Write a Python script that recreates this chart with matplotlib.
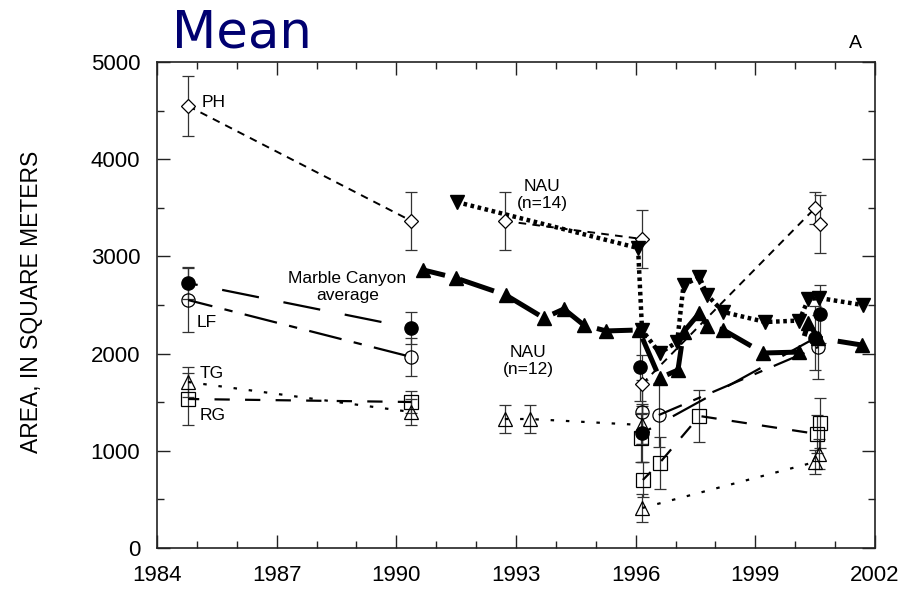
import numpy as np
import matplotlib
matplotlib.use("Agg")
import matplotlib.pyplot as plt

nan = np.nan

# PH - open diamonds, thin dashed
ph_year = [1984.78, 1990.38, nan, 1992.72, 1996.16, nan, 1996.16, 2000.50, nan, 2000.62]
ph_area = [4547, 3364, nan, 3364, 3179, nan, 1687, 3498, nan, 3333]
ph_err = [310, 300, nan, 300, 300, nan, 300, 160, nan, 300]

# LF - open circles, long-short dash
lf_year = [1984.78, 1990.38, nan, 1996.16, nan, 1996.58, 2000.58]
lf_area = [2551, 1965, nan, 1399, nan, 1368, 2068]
lf_err = [330, 200, nan, 330, nan, 330, 330]

# Marble Canyon average - filled circles, long dash
mc_year = [1984.78, 1990.38, nan, 1996.10, nan, 1996.17, 2000.50, nan, 2000.62]
mc_area = [2726, 2263, nan, 1862, nan, 1183, 2160, nan, 2407]
mc_err = [165, 160, nan, 350, nan, 300, 330, nan, 300]

# TG - open triangles, dotted
tg_year = [1984.78, 1990.38, nan, 1992.72, 1993.35, 1996.17, nan, 1996.17, 2000.50, nan, 2000.60]
tg_area = [1708, 1399, nan, 1327, 1327, 1265, nan, 412, 885, nan, 967]
tg_err = [150, 130, nan, 145, 145, 200, nan, 140, 120, nan, 150]

# RG - open squares, dashed
rg_year = [1984.78, 1990.38, nan, 1996.13, nan, 1996.18, 1996.60, 1997.60, 2000.55, nan, 2000.62]
rg_area = [1533, 1502, nan, 1132, nan, 700, 875, 1358, 1173, nan, 1286]
rg_err = [270, 110, nan, 250, nan, 180, 268, 268, 200, nan, 260]

# NAU (n=14) - filled down triangles, heavy dotted
n14_year = [1991.51, 1996.06, 1996.16, 1996.60, 1997.04, 1997.20, 1997.60, 1997.79,
            1998.20, 1999.25, 2000.10, 2000.33, 2000.60, 2001.69]
n14_area = [3560, 3086, 2243, 2006, 2119, 2706, 2788, 2603,
            2428, 2325, 2340, 2562, 2572, 2500]

# NAU (n=12) - filled up triangles, heavy long dash
n12_year = [1990.68, 1991.49, 1992.74, 1993.70, 1994.20, 1994.70, 1995.26, 1996.08,
            1996.60, 1997.06, 1997.20, 1997.60, 1997.80, 1998.20, 1999.20, 2000.10,
            2000.33, 2000.58, 2001.67]
n12_area = [2860, 2778, 2603, 2366, 2459, 2294, 2233, 2243,
            1749, 1831, 2222, 2418, 2284, 2243, 2006, 2016,
            2315, 2160, 2088]

# labels: text, year, area, alignment
label_text = ["PH", "LF", "TG", "RG", "Marble Canyon\naverage", "NAU\n(n=14)", "NAU\n(n=12)"]
label_year = [1985.13, 1985.0, 1985.06, 1985.06, 1988.77, 1993.65, 1993.30]
label_area = [4588, 2325, 1800, 1368, 2685, 3632, 1924]
label_ha = ["left", "left", "left", "left", "center", "center", "center"]

plt.rcParams['font.family'] = ['Liberation Sans', 'DejaVu Sans']
plt.rcParams['lines.scale_dashes'] = False

fig = plt.figure(figsize=(9.11, 5.95), dpi=100)
ax = fig.add_axes([157 / 911, 1 - 548 / 595, (875 - 157) / 911, (548 - 62) / 595])

ebar_kw = dict(fmt='none', ecolor='#333333', elinewidth=0.9, capsize=4, capthick=0.9, zorder=2)

for yr, ar, er in [(ph_year, ph_area, ph_err), (lf_year, lf_area, lf_err),
                   (mc_year, mc_area, mc_err), (tg_year, tg_area, tg_err),
                   (rg_year, rg_area, rg_err)]:
    ax.errorbar(yr, ar, yerr=er, **ebar_kw)

# lines
ax.plot(ph_year, ph_area, color='k', lw=1.4, ls=(0, (5.5, 4.5)), zorder=3)
ax.plot(lf_year, lf_area, color='k', lw=1.6, ls=(6, (24, 9, 6, 9)), zorder=3)
ax.plot(mc_year, mc_area, color='k', lw=1.6, ls=(20, (27, 18)), zorder=3)
ax.plot(tg_year, tg_area, color='k', lw=1.6, ls=(0, (2.5, 8.5)), zorder=3)
ax.plot(rg_year, rg_area, color='k', lw=1.6, ls=(3, (11, 11)), zorder=3)
ax.plot(n14_year, n14_area, color='k', lw=3.2, ls=(0, (2.6, 2.6)), zorder=4)
ax.plot(n12_year, n12_area, color='k', lw=3.6, ls=(10, (26, 11)), zorder=4)

# markers
ax.plot(ph_year, ph_area, ls='none', marker='D', ms=7.5, mfc='white', mec='k', mew=0.9, zorder=5)
ax.plot(lf_year, lf_area, ls='none', marker='o', ms=9.5, mfc='none', mec='k', mew=0.9, zorder=5)
ax.plot(mc_year, mc_area, ls='none', marker='o', ms=9.5, mfc='k', mec='k', zorder=5)
ax.plot(tg_year, tg_area, ls='none', marker='^', ms=10.5, mfc='none', mec='k', mew=0.9, zorder=5)
ax.plot(rg_year, rg_area, ls='none', marker='s', ms=9.5, mfc='none', mec='k', mew=0.9, zorder=5)
ax.plot(n14_year, n14_area, ls='none', marker='v', ms=10.5, mfc='k', mec='k', zorder=6)
ax.plot(n12_year, n12_area, ls='none', marker='^', ms=10.5, mfc='k', mec='k', zorder=6)

for t, x, y, ha in zip(label_text, label_year, label_area, label_ha):
    ax.text(x, y, t, ha=ha, va='center', fontsize=12.5, linespacing=1.15, zorder=7)

ax.set_xlim(1984, 2002)
ax.set_ylim(0, 5000)
ax.set_xticks(np.arange(1984, 2003, 3))
ax.set_xticks(np.arange(1984, 2003, 1), minor=True)
ax.set_yticks(np.arange(0, 5001, 1000))
ax.set_yticks(np.arange(0, 5001, 500), minor=True)
ax.tick_params(which='both', direction='in', top=True, right=True, width=1, color='#222222')
ax.tick_params(which='major', length=9.5, labelsize=16)
ax.tick_params(which='minor', length=5)
ax.tick_params(axis='x', which='major', pad=12)
ax.tick_params(axis='y', which='major', pad=12)
for s in ax.spines.values():
    s.set_linewidth(1.2)
    s.set_color('#222222')

fig.text(32 / 911, 1 - 302 / 595, "AREA, IN SQUARE METERS", rotation=90,
         ha='center', va='center', fontsize=16.5)
fig.text(172 / 911, 1 - 48 / 595, "Mean", fontsize=37, color='#000070',
         family='DejaVu Sans', ha='left', va='baseline')
fig.text(855 / 911, 1 - 48 / 595, "A", fontsize=14, ha='center', va='baseline')

fig.savefig("out.png", dpi=100)
